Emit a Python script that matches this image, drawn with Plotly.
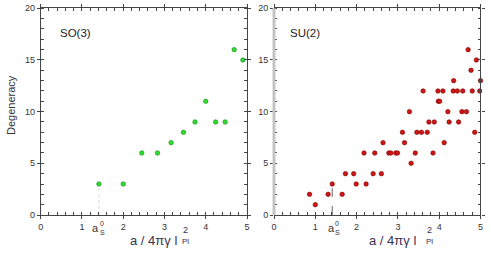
import plotly.graph_objects as go

# ---- data ----
so3_x = [1.41, 2.00, 2.45, 2.83, 3.16, 3.46, 3.74, 4.00, 4.24, 4.47, 4.69, 4.90]
so3_y = [3, 3, 6, 6, 7, 8, 9, 11, 9, 9, 16, 15]

su2_x = [0.86, 1.00, 1.31, 1.41, 1.65, 1.73, 1.93, 1.99, 2.18, 2.23, 2.40, 2.44,
         2.60, 2.64, 2.78, 2.83, 2.95, 2.99, 3.11, 3.16, 3.28, 3.32, 3.42, 3.46,
         3.57, 3.61, 3.71, 3.75, 3.85, 3.88, 3.97, 3.98, 4.01, 4.09, 4.12, 4.21,
         4.24, 4.34, 4.35, 4.44, 4.47, 4.57, 4.55, 4.66, 4.70, 4.77, 4.80, 4.86,
         4.90, 4.98, 5.00]
su2_y = [2, 1, 2, 3, 2, 4, 4, 3, 6, 3, 4, 6,
         4, 7, 6, 6, 6, 6, 8, 7, 10, 5, 6, 8,
         8, 12, 8, 9, 6, 9, 12, 11, 11, 12, 7, 10,
         9, 12, 13, 12, 9, 12, 10, 10, 16, 14, 12, 8,
         15, 12, 13]

x_ticks = [0, 1, 2, 3, 4, 5]
y_ticks = [0, 5, 10, 15, 20]
a_s0 = 1.41
a_s0_deg = 3

FONT = "Liberation Sans, Arial, sans-serif"
TXT = "#333333"
TITLE_C = "#3a3050"

fig = go.Figure()

# a_S^0 guide lines (drawn first, under markers)
fig.add_trace(go.Scatter(x=[a_s0, a_s0], y=[0, a_s0_deg], mode="lines", xaxis="x", yaxis="y",
                         line=dict(color="#d8d8d8", width=1, dash="dot"), showlegend=False,
                         hoverinfo="skip"))
fig.add_trace(go.Scatter(x=[a_s0, a_s0], y=[0, a_s0_deg], mode="lines", xaxis="x2", yaxis="y2",
                         line=dict(color="#666666", width=1, dash="dash"), showlegend=False,
                         hoverinfo="skip"))

fig.add_trace(go.Scatter(x=so3_x, y=so3_y, mode="markers", xaxis="x", yaxis="y",
                         marker=dict(size=4.5, color="#2fdc2f", line=dict(color="#1a8a1a", width=0.6)),
                         cliponaxis=False, showlegend=False))
fig.add_trace(go.Scatter(x=su2_x, y=su2_y, mode="markers", xaxis="x2", yaxis="y2",
                         marker=dict(size=4.5, color="#d01515", line=dict(color="#7a0000", width=0.6)),
                         cliponaxis=False, showlegend=False))

xd1 = [40.7 / 491, 247 / 491]
xd2 = [274 / 491, 480.5 / 491]
yd = [1 - 215 / 256, 1 - 8.3 / 256]


def xax(domain, anchor):
    return dict(domain=domain, anchor=anchor, range=[0, 5], tickvals=x_ticks,
                ticktext=[str(v) for v in x_ticks], ticks="outside", ticklen=3,
                tickcolor="#444", tickwidth=1, showline=True, linecolor="#444", linewidth=1,
                mirror="allticks", showgrid=False, zeroline=False, automargin=False,
                tickfont=dict(family=FONT, size=9, color=TXT),
                minor=dict(dtick=0.2, ticks="inside", ticklen=3, tickcolor="#444", showgrid=False))


def yax(domain, anchor, showline=True):
    return dict(domain=domain, anchor=anchor, range=[0, 20], tickvals=y_ticks,
                ticks="outside", ticklen=3, tickcolor="#444", tickwidth=1,
                showline=showline, linecolor="#444", linewidth=1, mirror="allticks",
                showgrid=False, zeroline=False, automargin=False,
                tickfont=dict(family=FONT, size=9, color=TXT),
                minor=dict(dtick=1, ticks="inside", ticklen=3, tickcolor="#444", showgrid=False))


fig.update_layout(
    width=491, height=256, autosize=False,
    margin=dict(l=0, r=0, t=0, b=0, pad=0, autoexpand=False),
    paper_bgcolor="white", plot_bgcolor="white",
    xaxis=xax(xd1, "y"), yaxis=yax(yd, "x"),
    xaxis2=xax(xd2, "y2"), yaxis2=yax(yd, "x2", showline=False),
)

shapes = [
    dict(type="line", xref="x2 domain", yref="y2 domain", x0=0, x1=0, y0=0, y1=1,
         line=dict(color="#c4c4c4", width=3)),
    dict(type="line", xref="x2 domain", yref="y2 domain", x0=1, x1=1, y0=0, y1=1,
         line=dict(color="#444", width=1)),
]
fig.update_layout(shapes=shapes)


def px(x, y):
    return x / 491, 1 - y / 256


annotations = []
for text, x0 in (("SO(3)", 58), ("SU(2)", 288)):
    xx, yy = px(x0, 33)
    annotations.append(dict(text=text, x=xx, y=yy, xref="paper", yref="paper",
                            xanchor="left", yanchor="middle", showarrow=False,
                            font=dict(family=FONT, size=11.5, color="#222")))

# y title
xx, yy = px(11, 105)
annotations.append(dict(text="Degeneracy", x=xx, y=yy, xref="paper", yref="paper",
                        textangle=-90, showarrow=False, xanchor="center", yanchor="middle",
                        font=dict(family=FONT, size=11, color=TXT)))

# x titles: a / 4πγ l_Pl^2
for left, sx in ((128, 181), (367, 425)):
    xx, yy = px(left, 240)
    annotations.append(dict(text="a / 4πγ l", x=xx, y=yy, xref="paper", yref="paper",
                            xanchor="left", yanchor="middle", showarrow=False,
                            font=dict(family=FONT, size=13, color=TITLE_C)))
    xx, yy = px(sx - 1, 241)
    annotations.append(dict(text="Pl", x=xx, y=yy, xref="paper", yref="paper",
                            xanchor="left", yanchor="middle", showarrow=False,
                            font=dict(family=FONT, size=8, color=TITLE_C)))
    xx, yy = px(sx, 229.5)
    annotations.append(dict(text="2", x=xx, y=yy, xref="paper", yref="paper",
                            xanchor="left", yanchor="middle", showarrow=False,
                            font=dict(family=FONT, size=9, color=TITLE_C)))

# a_S^0 labels under the axis
y_a = 1 - 227.5 / 256
y_sup = 1 - 223.5 / 256
y_sub = 1 - 232 / 256
for xr, shift in (("x", -3), ("x2", -1)):
    annotations.append(dict(text="a", x=a_s0, y=y_a, xref=xr, yref="paper",
                            xanchor="center", yanchor="middle", showarrow=False, xshift=shift,
                            font=dict(family=FONT, size=11, color=TXT)))
    annotations.append(dict(text="0", x=a_s0, y=y_sup, xref=xr, yref="paper",
                            xanchor="left", yanchor="middle", showarrow=False, xshift=shift + 2,
                            font=dict(family=FONT, size=7, color=TXT)))
    annotations.append(dict(text="S", x=a_s0, y=y_sub, xref=xr, yref="paper",
                            xanchor="left", yanchor="middle", showarrow=False, xshift=shift + 2,
                            font=dict(family=FONT, size=7, color=TXT)))

fig.update_layout(annotations=annotations)

fig.write_html("out.html", config={"responsive": False, "displayModeBar": False},
               post_script="document.body.style.margin='0';document.body.style.padding='0';")
